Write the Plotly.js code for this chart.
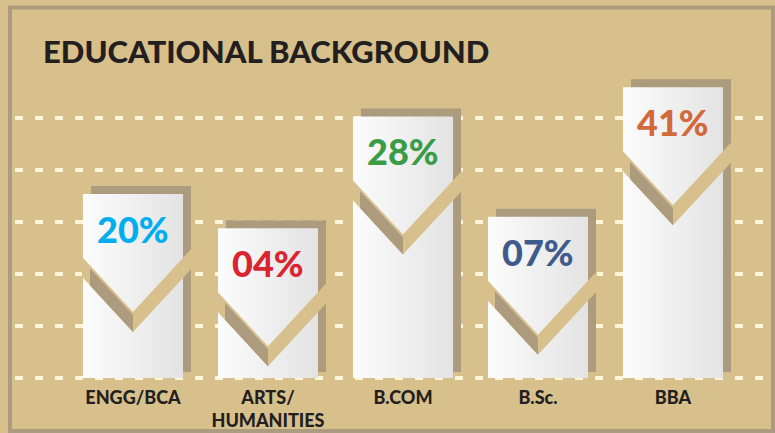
<!DOCTYPE html>
<html>
<head>
<meta charset="utf-8">
<script src="https://cdn.plot.ly/plotly-3.0.1.min.js"></script>
<style>html,body{margin:0;padding:0;background:#d8c08c;}#chart{width:775px;height:433px;}</style>
</head>
<body>
<div id="chart"></div>
<script>
// ---- data ----
const categories = ['ENGG/BCA', 'ARTS/<br>HUMANITIES', 'B.COM', 'B.Sc.', 'BBA'];
const shares = [20, 4, 28, 7, 41];                 // percent shown on each bar
const shareLabels = ['20%', '04%', '28%', '07%', '41%'];
const barHeights = [35.4, 28.8, 50.3, 31.0, 55.9]; // drawn bar heights (visual units, grid = 10)
const gridTicks = [0, 10, 20, 30, 40, 50];

// ---- styles ----
const labelColors = ['#00aeef', '#d9252f', '#3a9c47', '#3f5b8c', '#d1693a'];
const BG = '#d8c08c', SHADOW = '#ac9b7d', FRAME = '#ab9c7f', GRID = '#fff6d8', INK = '#231f20';
const FONT = '"Lato Black", "Lato Heavy", Lato, "Open Sans", sans-serif';

const W = 775, H = 433, M = {l: 15, r: 10, t: 76, b: 50};
const plotW = W - M.l - M.r, plotH = H - M.t - M.b;
const PXX = 135, PXY = 5.2;
const xr = [-0.874, -0.874 + plotW / PXX];
const yr = [-5 / PXY, -5 / PXY + plotH / PXY];
const BW = 100 / PXX;
const AXIS0 = H - M.b - 5; // pixel row of value 0

const idx = categories.map((_, i) => i);
const dx = p => p / PXX, dy = p => p / PXY;

const shadowBase = dy(6);
const shadowTrace = {
  type: 'bar', x: idx, y: barHeights.map(h => h + dy(8) - shadowBase), base: shadowBase,
  width: BW, offset: -BW / 2 + dx(8), marker: {color: SHADOW, line: {width: 0}},
  hoverinfo: 'skip', showlegend: false
};
const barTrace = {
  type: 'bar', x: idx, y: barHeights, width: BW, offset: -BW / 2,
  marker: {color: '#f1f1f1', line: {width: 0}}, hoverinfo: 'skip', showlegend: false,
  customdata: shares
};

// chevron cut geometry (pixel offsets from bar centre / top)
const K = 1.08, VTX = 118, GAP = 20;
const up = o => VTX - K * Math.abs(o);
function pt(i, h, ox, drop) { return (i + dx(ox)) + ',' + (h - dy(drop)); }
const shapes = [];
barHeights.forEach((h, i) => {
  shapes.push({type: 'path', xref: 'x', yref: 'y', layer: 'above', line: {width: 0}, fillcolor: BG,
    path: 'M' + pt(i, h, -51, up(-51)) + 'L' + pt(i, h, 0, VTX) + 'L' + pt(i, h, 59, up(59)) +
          'L' + pt(i, h, 59, up(59) + GAP) + 'L' + pt(i, h, 0, VTX + GAP) + 'L' + pt(i, h, -51, up(-51) + GAP) + 'Z'});
  shapes.push({type: 'path', xref: 'x', yref: 'y', layer: 'above', line: {width: 0}, fillcolor: SHADOW,
    path: 'M' + pt(i, h, -43, up(-43) + 3) + 'L' + pt(i, h, 0, VTX + 3) + 'L' + pt(i, h, 0, VTX + GAP) +
          'L' + pt(i, h, -43, up(-43) + GAP) + 'Z'});
});
// frame
const px2paperX = p => (p - M.l) / plotW, px2paperY = p => (H - M.b - p) / plotH;
shapes.push({type: 'rect', xref: 'paper', yref: 'paper', layer: 'below',
  x0: px2paperX(10), x1: px2paperX(773), y0: px2paperY(431), y1: px2paperY(7.5),
  line: {color: FRAME, width: 4}, fillcolor: 'rgba(0,0,0,0)'});

const annotations = shareLabels.map((t, i) => ({
  x: i, y: barHeights[i], xref: 'x', yref: 'y', text: t, showarrow: false,
  yanchor: 'middle', yshift: -35,
  font: {family: FONT, size: 36, weight: 900, color: labelColors[i]}
}));
annotations.push({
  xref: 'paper', yref: 'paper', x: px2paperX(41), y: px2paperY(51), xanchor: 'left', yanchor: 'middle',
  text: 'EDUCATIONAL BACKGROUND', showarrow: false,
  font: {family: FONT, size: 31, weight: 900, color: INK}
});

const layout = {
  width: W, height: H, margin: {l: M.l, r: M.r, t: M.t, b: M.b, pad: 0},
  paper_bgcolor: BG, plot_bgcolor: BG, barmode: 'overlay', showlegend: false,
  xaxis: {range: xr, tickvals: idx, ticktext: categories, showgrid: false, zeroline: false,
    showline: false, ticks: '', ticklabelstandoff: 2,
    tickfont: {family: FONT, size: 18, weight: 900, color: INK}, fixedrange: true},
  yaxis: {range: yr, tickvals: gridTicks, showticklabels: false, showgrid: true, gridcolor: GRID,
    gridwidth: 4, griddash: '8px,12px', zeroline: false, showline: false, ticks: '', fixedrange: true},
  shapes: shapes, annotations: annotations
};

Plotly.newPlot('chart', [shadowTrace, barTrace], layout, {staticPlot: true}).then(gd => {
  const svg = gd.querySelector('.main-svg');
  let defs = svg.querySelector('defs');
  const NS = 'http://www.w3.org/2000/svg';
  const g = document.createElementNS(NS, 'linearGradient');
  g.setAttribute('id', 'barGrad'); g.setAttribute('x1', '0'); g.setAttribute('x2', '1');
  g.setAttribute('y1', '0'); g.setAttribute('y2', '0');
  [['0', '#fcfcfc'], ['1', '#e3e3e3']].forEach(([o, c]) => {
    const s = document.createElementNS(NS, 'stop'); s.setAttribute('offset', o); s.setAttribute('stop-color', c); g.appendChild(s);
  });
  defs.appendChild(g);
  const traces = gd.querySelectorAll('.barlayer .trace');
  if (traces[1]) traces[1].querySelectorAll('path').forEach(p => { p.style.fill = 'url(#barGrad)'; });
});
</script>
</body>
</html>
